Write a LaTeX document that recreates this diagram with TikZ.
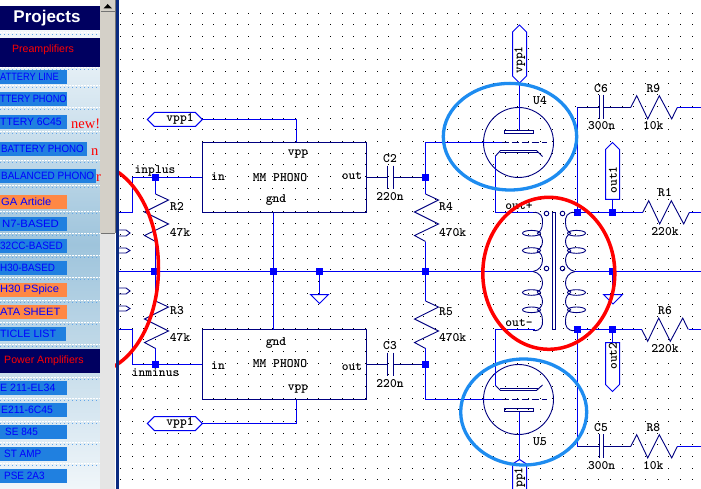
\documentclass[tikz,border=0pt]{standalone}
\usepackage{fontspec}
\usepackage{graphicx}
\setmainfont{Liberation Sans}
\newfontfamily\redfont{Liberation Serif}
\usetikzlibrary{shapes.symbols}
\definecolor{wireblue}{HTML}{0000F0}
\definecolor{partblue}{HTML}{000080}
\definecolor{ringblue}{HTML}{1E8CF0}
\definecolor{btnblue}{HTML}{2080E0}
\definecolor{btnorange}{HTML}{FF8844}
\definecolor{barblue}{HTML}{0A2A80}
\definecolor{headblue}{HTML}{000060}
\definecolor{scrollgray}{HTML}{D4D0C8}
\definecolor{panelblue}{HTML}{9EC4DC}
\tikzstyle{wire} = [draw=wireblue, line width=1pt]
\tikzstyle{part} = [draw=partblue, line width=0.9pt]
\tikzstyle{block} = [rectangle, draw=partblue, line width=1pt, minimum width=164pt, minimum height=70pt, inner sep=0pt]
\tikzstyle{junc} = [rectangle, fill=blue, minimum size=7pt, inner sep=0pt]
\tikzstyle{lbl} = [font=\ttfamily\bfseries\fontsize{12.9}{13}\selectfont, text=black, inner sep=0pt]
\tikzstyle{tagbox} = [signal, draw=wireblue, line width=1pt, fill=white, inner sep=0pt, signal pointer angle=90]
\tikzstyle{ring} = [draw=ringblue, line width=3.3pt]
\tikzstyle{redring} = [draw=red, line width=3.5pt]
\tikzstyle{btn} = [rectangle, fill=btnblue, anchor=north west, minimum height=14pt, inner sep=0pt]
\tikzstyle{head} = [rectangle, fill=headblue, anchor=north west, minimum width=100pt, inner sep=0pt]
\tikzstyle{redtxt} = [font=\redfont\fontsize{14.5}{15}\selectfont, text=red, inner sep=0pt, anchor=west]
\tikzset{
	hres/.pic={\draw [part] (0,0) -- ++(6,-11.8) -- ++(11,23.2) -- ++(11.6,-23.2) -- ++(12.4,23.2) -- ++(5.6,-11.4);},
	vres/.pic={\draw [part] (0,0) -- ++(13,6) -- ++(-24,12) -- ++(24,12) -- ++(-24,11.5) -- ++(11,6);},
	coilhalf/.pic={
		\draw [part] (-21,-59) .. controls (-13,-60) and (-11,-54) .. (-11.5,-49) .. controls (-11.5,-43) and (-14,-39) .. (-17,-38.3);
		\draw [part] (-22.5,-38.3) ellipse (9pt and 2.8pt);
		\draw [part] (-17,-38) .. controls (-13,-37) and (-11.5,-33) .. (-11.5,-30) .. controls (-11.5,-26) and (-14,-22) .. (-17,-21);
		\draw [part] (-22.5,-21) ellipse (9pt and 2.8pt);
		\draw [part] (-17,-20.5) .. controls (-13,-19) and (-11.5,-15) .. (-11.5,-11) .. controls (-11.5,-6) and (-15,-1) .. (-21,0);
	}
}
\begin{document}
\begin{tikzpicture}[x=1pt, y=-1pt]
	\useasboundingbox (0,0) rectangle (701,489);
	\fill [white] (0,0) rectangle (701,489);
	% Grid
	\foreach \gx in {0,...,50} {
		\foreach \gy in {0,...,41} {
			\pgfmathtruncatemacro{\px}{120.5+11.667*\gx}
			\pgfmathtruncatemacro{\py}{13.2+11.667*\gy}
			\fill [black] (\px,\py) rectangle ++(1,1);
		}
	}
	% Amplifier blocks
	\node (AmpTop) [block] at (284.5,177.5) {};
	\node (AmpBot) [block] at (284.5,364.5) {};
	\node (NameTop) [lbl] at (280,178) {MM PHONO};
	\node (NameBot) [lbl] at (280,364) {MM PHONO};
	\node (VppTop) [lbl] at (298,154) {vpp};
	\node (GndTop) [lbl] at (276,200) {gnd};
	\node (InTop) [lbl] at (218,177) {in};
	\node (OutTop) [lbl] at (352,176) {out};
	\node (VppBot) [lbl] at (298,389) {vpp};
	\node (GndBot) [lbl] at (276,343) {gnd};
	\node (InBot) [lbl] at (218,366) {in};
	\node (OutBot) [lbl] at (352,367) {out};
	% Junctions
	\node (JPlus) [junc] at (155.5,177.5) {};
	\node (JMinus) [junc] at (155.5,364.5) {};
	\node (JMid) [junc] at (154.5,271.5) {};
	\node (JGnd) [junc] at (273.5,271.5) {};
	\node (JEarth) [junc] at (319.5,271.5) {};
	\node (JFourA) [junc] at (425.5,177.5) {};
	\node (JFourB) [junc] at (425.5,271.5) {};
	\node (JFourC) [junc] at (425.5,364.5) {};
	\node (JPriA) [junc] at (577.5,212.5) {};
	\node (JPriB) [junc] at (577.5,329.5) {};
	\node (JOutA) [junc] at (612.5,212.5) {};
	\node (JOutB) [junc] at (612.5,271.5) {};
	\node (JOutC) [junc] at (612.5,329.5) {};
	% Tags
	\node (TagVppA) [tagbox, signal to=west and east, minimum width=55pt, minimum height=14pt] at (174.8,119.5) {};
	\node (TagVppB) [tagbox, signal to=west and east, minimum width=55pt, minimum height=14pt] at (174.8,423.5) {};
	\node (TagVppC) [tagbox, signal to=east and west, rotate=90, minimum width=58pt, minimum height=14pt] at (519.5,54) {};
	\node (TagOutA) [tagbox, signal to=east, rotate=90, minimum width=57pt, minimum height=14pt] at (612.5,174.5) {};
	\node (TagOutB) [tagbox, signal to=west, rotate=90, minimum width=49pt, minimum height=14pt] at (612.5,363.5) {};
	\node (LblVppA) [lbl] at (180,119) {vpp1};
	\node (LblVppB) [lbl] at (180,423) {vpp1};
	\node (LblVppC) [lbl, rotate=90] at (519.8,60) {vpp1};
	\node (LblOutA) [lbl, rotate=90] at (613,180) {out1};
	\node (LblOutB) [lbl, rotate=90] at (613,356) {out2};
	% Free ends
	\coordinate (LeftMid) at (118,271.5);
	\coordinate (CoilLeft) at (533,271.5);
	\coordinate (CoilRight) at (575,271.5);
	\coordinate (RightMid) at (701,271.5);
	\coordinate (InA) at (132.5,177.5);
	\coordinate (InB) at (132.5,212.5);
	\coordinate (InC) at (118,212.5);
	\coordinate (InD) at (132.5,364.5);
	\coordinate (InE) at (132.5,329.5);
	\coordinate (InF) at (118,329.5);
	\coordinate (VppTopTurn) at (296.5,119.5);
	\coordinate (VppTopIn) at (296.5,142.5);
	\coordinate (VppBotTurn) at (296.5,423.5);
	\coordinate (VppBotIn) at (296.5,399.5);
	\coordinate (GndTopIn) at (273.5,212.5);
	\coordinate (GndBotIn) at (273.5,329.5);
	\coordinate (GridTopL) at (425.5,142.5);
	\coordinate (GridTopR) at (501.7,142.5);
	\coordinate (GridBotL) at (425.5,399.5);
	\coordinate (GridBotR) at (501.7,399.5);
	% Wires on the input side
	\draw [wire] (LeftMid) -- (CoilLeft);
	\draw [wire] (CoilRight) -- (RightMid);
	\draw [wire] (InC) -- (InB) -- (InA) -- (AmpTop.west);
	\draw [wire] (InF) -- (InE) -- (InD) -- (AmpBot.west);
	\draw [wire] (TagVppA.east) -- (VppTopTurn) -- (VppTopIn);
	\draw [wire] (TagVppB.east) -- (VppBotTurn) -- (VppBotIn);
	\draw [wire] (GndTopIn) -- (GndBotIn);
	\draw [part] (118,230) -- (126,230) -- (130,233) -- (126,236) -- (118,236);
	\draw [part] (118,248) -- (126,248) -- (130,250.5) -- (126,253) -- (118,253);
	\draw [part] (118,288) -- (126,288) -- (130,291) -- (126,294) -- (118,294);
	\draw [part] (118,306) -- (126,306) -- (130,308.5) -- (126,311) -- (118,311);
	% Resistors R2 R3 R4 R5
	\pic at (155.5,194) {vres};
	\pic at (155.5,301) {vres};
	\pic at (425.5,194) {vres};
	\pic at (425.5,301) {vres};
	\draw [wire] (JPlus) -- (155.5,194);
	\draw [wire] (155.5,241.5) -- (JMid.north -| 155.5,0);
	\draw [wire] (JMid.south -| 155.5,0) -- (155.5,301);
	\draw [wire] (155.5,347.5) -- (JMinus);
	\draw [wire] (GridTopL) -- (425.5,194);
	\draw [wire] (425.5,241.5) -- (JFourB);
	\draw [wire] (JFourB) -- (425.5,301);
	\draw [wire] (425.5,347.5) -- (GridBotL);
	\node (LblRTwo) [lbl] at (177,207) {R2};
	\node (LblRTwoV) [lbl] at (180,233) {47k};
	\node (LblRThree) [lbl] at (177,311) {R3};
	\node (LblRThreeV) [lbl] at (180,338) {47k};
	\node (LblRFour) [lbl] at (446,207) {R4};
	\node (LblRFourV) [lbl] at (452.7,233) {470k};
	\node (LblRFive) [lbl] at (446,311.7) {R5};
	\node (LblRFiveV) [lbl] at (452.7,338) {470k};
	\node (LblPlus) [lbl] at (155,171) {inplus};
	\node (LblMinus) [lbl] at (155.6,373) {inminus};
	% Earth in the middle
	\coordinate (EarthA) at (319.5,294.5);
	\draw [wire] (JEarth) -- (EarthA);
	\draw [wire] (310.5,294.5) -- (328.5,294.5) -- (319.5,303.5) -- cycle;
	\coordinate (EarthB) at (612.5,294.5);
	\draw [wire] (JOutB) -- (EarthB);
	\draw [wire] (603.5,294.5) -- (622.5,294.5) -- (613,304) -- cycle;
	% Coupling capacitors C2 C3
	\draw [part] (AmpTop.east) -- (387.5,177.5) (393.5,177.5) -- (JFourA);
	\draw [part] (387.5,165.7) -- (387.5,188.7) (393.5,165.7) -- (393.5,188.7);
	\draw [part] (AmpBot.east) -- (387.5,364.5) (393.5,364.5) -- (JFourC);
	\draw [part] (387.5,352.7) -- (387.5,376) (393.5,352.7) -- (393.5,376);
	\node (LblCTwo) [lbl] at (390,158.7) {C2};
	\node (LblCTwoV) [lbl] at (390,196.7) {220n};
	\node (LblCThree) [lbl] at (390,345.7) {C3};
	\node (LblCThreeV) [lbl] at (390,384) {220n};
	% Valve U4
	\draw [part] (518.5,142.5) circle (35pt);
	\draw [wire] (GridTopL) -- (GridTopR);
	\draw [part, dash pattern=on 7pt off 3pt] (GridTopR) -- (546.7,142.5);
	\draw [part] (504.5,130.5) rectangle (533.5,133.5);
	\draw [wire] (TagVppC.west) -- (519.5,130.5);
	\draw [part] (495.5,156) -- (500.5,150.5) -- (536.5,150.5) -- (542.5,156.5);
	\draw [part] (500,152.5) -- (537.5,152.5);
	\draw [wire] (495.5,156) -- (495.5,212.5) -- (535,212.5);
	\node (LblUFour) [lbl] at (540,100.7) {U4};
	% Valve U5
	\draw [part] (518.5,399.5) circle (35pt);
	\draw [wire] (GridBotL) -- (GridBotR);
	\draw [part, dash pattern=on 7pt off 3pt] (GridBotR) -- (546.7,399.5);
	\draw [part] (504.5,408.5) rectangle (533.5,411.5);
	\draw [part] (495.5,385.5) -- (500.5,390.5) -- (536.5,390.5) -- (542.5,385);
	\draw [part] (500,388.5) -- (537.5,388.5);
	\draw [wire] (495.5,385.5) -- (495.5,329.5) -- (535,329.5);
	\node (LblUFive) [lbl] at (540,441.7) {U5};
	\draw [wire] (519.5,411.5) -- (519.5,459.5);
	\draw [wire, fill=white] (512.5,489) -- (512.5,464) -- (519.5,459.5) -- (526.5,464) -- (526.5,489);
	\node (TagVppD) [lbl, rotate=90] at (519.8,477.5) {pp1};
	% Transformer
	\draw [part] (552.5,212.5) rectangle (555.5,329.5);
	\pic at (554,271.5) {coilhalf};
	\pic [xscale=-1] at (554,271.5) {coilhalf};
	\pic [yscale=-1] at (554,271.5) {coilhalf};
	\pic [xscale=-1, yscale=-1] at (554,271.5) {coilhalf};
	\foreach \dotx in {546.5,562.5} {
		\foreach \doty in {213.5,268.5} {
			\draw [part] (\dotx,\doty) circle (2.3pt);
		}
	}
	\node (LblOutP) [lbl] at (519,206) {out+};
	\node (LblOutM) [lbl] at (519,323) {out-};
	% Output side
	\coordinate (PlateA) at (577.5,107.5);
	\coordinate (PlateB) at (577.5,446.5);
	\draw [wire] (PlateA) -- (JPriA);
	\draw [wire] (JPriB) -- (PlateB);
	\draw [wire] (JPriA) -- (642.7,212.5);
	\draw [wire] (JPriB) -- (641.7,329.5);
	\draw [wire] (TagOutA.west) -- (JOutA);
	\draw [wire] (JOutC) -- (TagOutB.east);
	\draw [wire] (689.3,212.5) -- (701,212.5);
	\draw [wire] (689.3,329.5) -- (701,329.5);
	\pic at (642.7,212.5) {hres};
	\pic [yscale=-1] at (641.7,329.5) {hres};
	\node (LblROne) [lbl] at (665,193) {R1};
	\node (LblROneV) [lbl] at (665,231.7) {220k};
	\node (LblRSix) [lbl] at (665,310.7) {R6};
	\node (LblRSixV) [lbl] at (665,349) {220k};
	% C6 R9
	\draw [part] (PlateA) -- (599.5,107.5) (603.5,107.5) -- (630.7,107.5);
	\draw [part] (599.5,95) -- (599.5,119) (603.5,95) -- (603.5,119);
	\pic at (630.7,107.5) {hres};
	\draw [wire] (677.3,107.5) -- (701,107.5);
	\node (LblCSix) [lbl] at (601,88.3) {C6};
	\node (LblCSixV) [lbl] at (601.7,126) {300n};
	\node (LblRNine) [lbl] at (653.3,88.3) {R9};
	\node (LblRNineV) [lbl] at (653.3,126) {10k};
	% C5 R8
	\draw [part] (PlateB) -- (599.5,446.5) (603.5,446.5) -- (630.7,446.5);
	\draw [part] (599.5,434.3) -- (599.5,458.3) (603.5,434.3) -- (603.5,458.3);
	\pic at (630.7,446.5) {hres};
	\draw [wire] (677.3,446.5) -- (701,446.5);
	\node (LblCFive) [lbl] at (601,427.7) {C5};
	\node (LblCFiveV) [lbl] at (601.7,465.7) {300n};
	\node (LblREight) [lbl] at (653.3,427.7) {R8};
	\node (LblREightV) [lbl] at (653.3,465.7) {10k};
	% Rings
	\draw [ring] (510,136.7) ellipse (66.7pt and 53.3pt);
	\draw [ring] (523.7,412) ellipse (63pt and 53pt);
	\draw [redring] (548.8,273.3) ellipse (66pt and 76pt);
	\draw [redring] (90,268) ellipse (68.5pt and 105pt);
	% Side panel
	\shade [top color=white, bottom color=white!85!panelblue, middle color=panelblue] (0,0) rectangle (100,489);
	\fill [scrollgray] (100,0) rectangle (115,233);
	\fill [black!10] (100,233) rectangle (115,489);
	\draw [black!55, line width=1pt] (100.5,12) -- (115,12) (100.5,233) -- (115,233) (115,0) -- (115,233);
	\fill [black] (107.7,4) -- (103.5,8.5) -- (112,8.5) -- cycle;
	\fill [barblue] (116,0) rectangle (118.7,489);
	\foreach \ly in {33,68,86,108,132,161,186,211,233,255,277,300,322,344,377,398,421,442,463} {
		\draw [white, line width=1pt, dash pattern=on 2pt off 1pt] (0,\ly) -- (100,\ly);
		\draw [btnblue!70, line width=1pt, dash pattern=on 1pt off 3pt] (0,\ly+2) -- (100,\ly+2);
	}
	% Headers
	\node (HeadProj) [head, minimum height=24pt] at (0,6) {};
	\node (TxtProj) [font=\bfseries\fontsize{17}{18}\selectfont, text=white, inner sep=0pt] at (47,18) {Projects};
	\node (HeadPre) [head, minimum height=29pt] at (0,38) {};
	\node (TxtPre) [font=\fontsize{10.6}{12}\selectfont, text=red, inner sep=0pt] at (43,50) {Preamplifiers};
	\node (HeadPow) [head, minimum height=24pt] at (0,349) {};
	\node (TxtPow) [font=\fontsize{10.6}{12}\selectfont, text=red, inner sep=0pt] at (44,361) {Power Amplifiers};
	% Buttons
	\foreach \by/\bw/\bc/\bx/\bs/\bt in {
		70/67/btnblue/0/.87/ATTERY LINE,
		92/67/btnblue/0/.87/TTERY PHONO,
		115/67/btnblue/0/.98/TTERY 6C45,
		142/87/btnblue/1/.92/BATTERY PHONO,
		169/96/btnblue/1/.94/BALANCED PHONO,
		195/67/btnorange/1/1.05/GA Article,
		217/67/btnblue/2/1.07/N7-BASED,
		239/67/btnblue/0/.94/32CC-BASED,
		261/67/btnblue/0/.93/H30-BASED,
		283/67/btnorange/0/1.05/H30 PSpice,
		305/67/btnorange/0/1.05/ATA SHEET,
		327/66/btnblue/0/1.01/TICLE LIST,
		381/67/btnblue/0/1/E 211-EL34,
		403/67/btnblue/1/.98/E211-6C45,
		425/67/btnblue/5/.94/SE 845,
		447/67/btnblue/4/.94/ST AMP,
		469/67/btnblue/4/.94/PSE 2A3
	} {
		\node (Btn\by) [btn, fill=\bc, minimum width=\bw pt] at (0,\by) {};
		\node (Txt\by) [font=\fontsize{10.6}{12}\selectfont, text=blue, anchor=west, inner sep=0pt] at (\bx,\by+7) {\scalebox{\bs}[1]{\bt}};
	}
	\node (NewA) [redtxt] at (71,124) {new!};
	\node (NewB) [redtxt] at (91,152) {n};
	\node (NewC) [redtxt] at (96,178.5) {r};
\end{tikzpicture}
\end{document}
